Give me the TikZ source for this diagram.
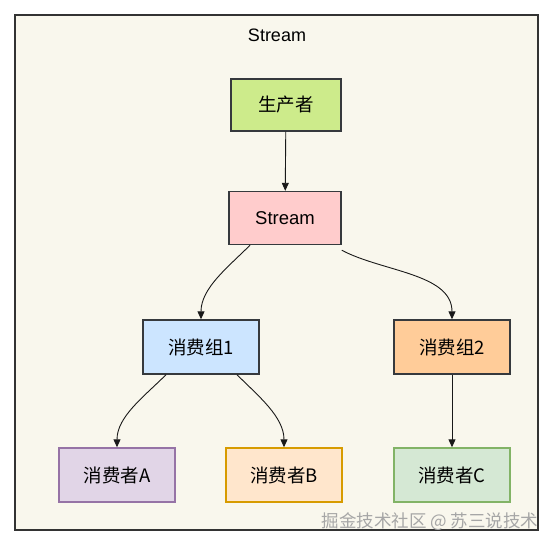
\documentclass[tikz,border=0pt]{standalone}
\usepackage{fontspec}
\setmainfont{Liberation Sans}
\newfontfamily\cjk{Noto Sans CJK SC}
\usepackage{tikz}
\usepackage{xcolor}
\usetikzlibrary{arrows.meta,positioning}

\definecolor{bgcream}{HTML}{F9F7ED}
\definecolor{edgedark}{HTML}{36393D}
\definecolor{fillprod}{HTML}{CDEB8B}
\definecolor{fillstream}{HTML}{FFCCCC}
\definecolor{fillgone}{HTML}{CCE5FF}
\definecolor{fillgtwo}{HTML}{FFCC99}
\definecolor{fillca}{HTML}{E1D5E7}
\definecolor{drawca}{HTML}{9673A6}
\definecolor{fillcb}{HTML}{FFE6CC}
\definecolor{drawcb}{HTML}{D79B00}
\definecolor{fillcc}{HTML}{D5E8D4}
\definecolor{drawcc}{HTML}{82B366}

\begin{document}
\begin{tikzpicture}[x=1pt,y=-1pt,
  box/.style={rectangle,draw=edgedark,line width=1.4pt,inner sep=0pt,
    minimum width=116pt,minimum height=54pt,font=\fontsize{18.5}{22}\selectfont},
  arr/.style={-{Triangle[length=8pt,width=7pt]},line width=0.9pt,draw=black!90}]
\useasboundingbox (0,0) rectangle (554,547);
\draw[fill=bgcream,draw=black!80,line width=1.5pt] (15,15) rectangle (538,530);
\node (title) at (277,35) [font=\fontsize{18}{22}\selectfont]{Stream};
\node (prod) at (286,105) [box,fill=fillprod,minimum width=110pt,minimum height=52pt]{\cjk 生产者};
\node (stream) at (285,218) [box,fill=fillstream,minimum width=112pt,minimum height=53pt]{Stream};
\node (gone) at (201,347) [box,fill=fillgone]{\cjk 消费组1};
\node (gtwo) at (452,347) [box,fill=fillgtwo]{\cjk 消费组2};
\node (ca) at (117,475) [box,fill=fillca,draw=drawca]{\cjk 消费者A};
\node (cb) at (284,475) [box,fill=fillcb,draw=drawcb]{\cjk 消费者B};
\node (cc) at (452,475) [box,fill=fillcc,draw=drawcc]{\cjk 消费者C};
\draw[arr] (prod) -- (stream);
\draw[arr] ([xshift=-35pt]stream.south) to[out=225,in=90,looseness=0.9] (gone.north);
\draw[arr] ([yshift=-5pt]stream.south east) to[out=-28,in=90,looseness=0.9] (gtwo.north);
\draw[arr] ([xshift=-35pt]gone.south) to[out=225,in=90,looseness=0.9] (ca.north);
\draw[arr] ([xshift=36pt]gone.south) to[out=-45,in=90,looseness=0.9] (cb.north);
\draw[arr] (gtwo) -- (cc);
\node (mark) at (430,522) [text=black!35,font=\cjk\fontsize{17.5}{21}\selectfont]{掘金技术社区 @ 苏三说技术};
\end{tikzpicture}
\end{document}
